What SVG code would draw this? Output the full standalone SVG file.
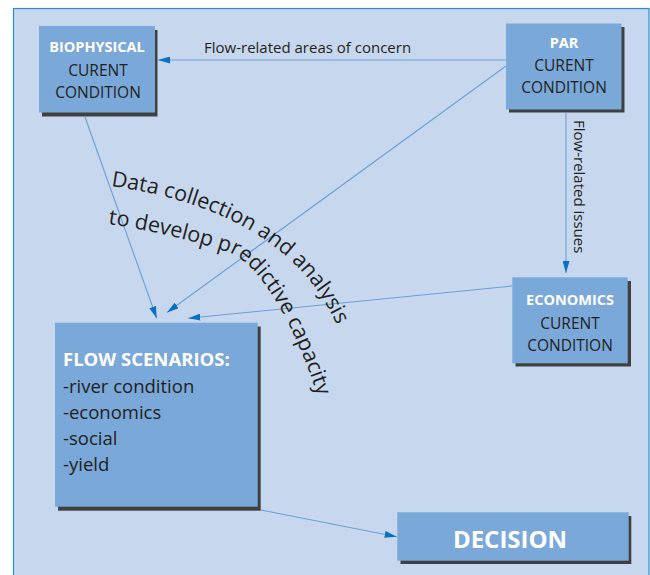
<svg xmlns="http://www.w3.org/2000/svg" width="650" height="575" viewBox="0 0 650 575">
<defs>
<style>
.box{fill:#7aa8d8}
.shadow{fill:#404041}
.hd{font-family:"Open Sans","Liberation Sans",sans-serif;font-weight:700;fill:#ffffff;text-anchor:middle}
.bd{font-family:"Open Sans","Liberation Sans",sans-serif;fill:#231f20;text-anchor:middle;font-size:15.5px}
.lbl{font-family:"Open Sans","Liberation Sans",sans-serif;fill:#231f20;font-size:15px}
.curve{font-family:"Open Sans","Liberation Sans",sans-serif;fill:#231f20;font-size:21.5px}
.conn{stroke:#6a9fd6;stroke-width:1.1;fill:none;marker-end:url(#ah)}
</style>
<marker id="ah" markerUnits="userSpaceOnUse" markerWidth="12" markerHeight="7" refX="12" refY="3.5" orient="auto" viewBox="0 0 12 7">
<path d="M0,0 L12,3.5 L0,7 z" fill="#0b70c2"/>
</marker>
<path id="arc1" d="M111,186 C200,199 304,234 342,338"/>
<path id="arc2" d="M108,224 C150,230 190,240 228,252 C260,262 300,332 324,417"/>
</defs>
<rect x="0" y="0" width="650" height="575" fill="#ffffff"/>
<rect x="13.5" y="8.5" width="635.5" height="580" fill="#c7d8ee" stroke="#2a8ad4" stroke-width="1.2"/>

<g id="connectors">
<line class="conn" x1="506" y1="60" x2="158" y2="60"/>
<line class="conn" x1="566" y1="113" x2="566" y2="273"/>
<line class="conn" x1="506" y1="66" x2="167" y2="312.5"/>
<line class="conn" x1="85" y1="117" x2="156.7" y2="318.3"/>
<line class="conn" x1="512" y1="286" x2="188.3" y2="318.3"/>
<line class="conn" x1="261" y1="510" x2="396.7" y2="536.7"/>
<text class="lbl" x="204" y="52.5">Flow-related areas of concern</text>
<text class="lbl" transform="translate(574,120) rotate(90)" font-size="14.5">Flow-related issues</text>
</g>

<g id="curved-label">
<text class="curve"><textPath href="#arc1">Data collection and analysis</textPath></text>
<text class="curve"><textPath href="#arc2">to develop predictive capacity</textPath></text>
</g>

<g id="biophysical">
<rect class="shadow" x="42" y="30" width="115.5" height="86.5"/>
<rect class="box" x="39" y="26" width="116" height="86.5"/>
<text class="hd" x="97" y="52" font-size="14.5">BIOPHYSICAL</text>
<text class="bd" x="98" y="76">CURENT</text>
<text class="bd" x="98" y="97.5">CONDITION</text>
</g>

<g id="par">
<rect class="shadow" x="509" y="27" width="115.5" height="85.5"/>
<rect class="box" x="506" y="23.5" width="115.5" height="86"/>
<text class="hd" x="564" y="47.5" font-size="14.5">PAR</text>
<text class="bd" x="564" y="71">CURENT</text>
<text class="bd" x="564" y="92.7">CONDITION</text>
</g>

<g id="economics">
<rect class="shadow" x="515.5" y="281" width="115.5" height="85.5"/>
<rect class="box" x="512.3" y="277.3" width="115.4" height="86"/>
<text class="hd" x="570" y="305" font-size="14.5">ECONOMICS</text>
<text class="bd" x="570" y="328.5">CURENT</text>
<text class="bd" x="570" y="351">CONDITION</text>
</g>

<g id="flow-scenarios">
<rect class="shadow" x="58" y="326.5" width="202.7" height="184.2"/>
<rect class="box" x="55" y="322.7" width="202.7" height="184"/>
<text class="hd" x="63" y="365.5" font-size="18.5" style="text-anchor:start">FLOW SCENARIOS:</text>
<g font-family="'Open Sans','Liberation Sans',sans-serif" font-size="18.5" fill="#231f20">
<text x="63" y="392.5">-river condition</text>
<text x="63" y="418.5">-economics</text>
<text x="63" y="444.5">-social</text>
<text x="63" y="470.5">-yield</text>
</g>
</g>

<g id="decision">
<rect class="shadow" x="400.5" y="516" width="230.8" height="48"/>
<rect class="box" x="397.3" y="512.3" width="231.4" height="48.4"/>
<text class="hd" x="510" y="547.5" font-size="24">DECISION</text>
</g>
</svg>
